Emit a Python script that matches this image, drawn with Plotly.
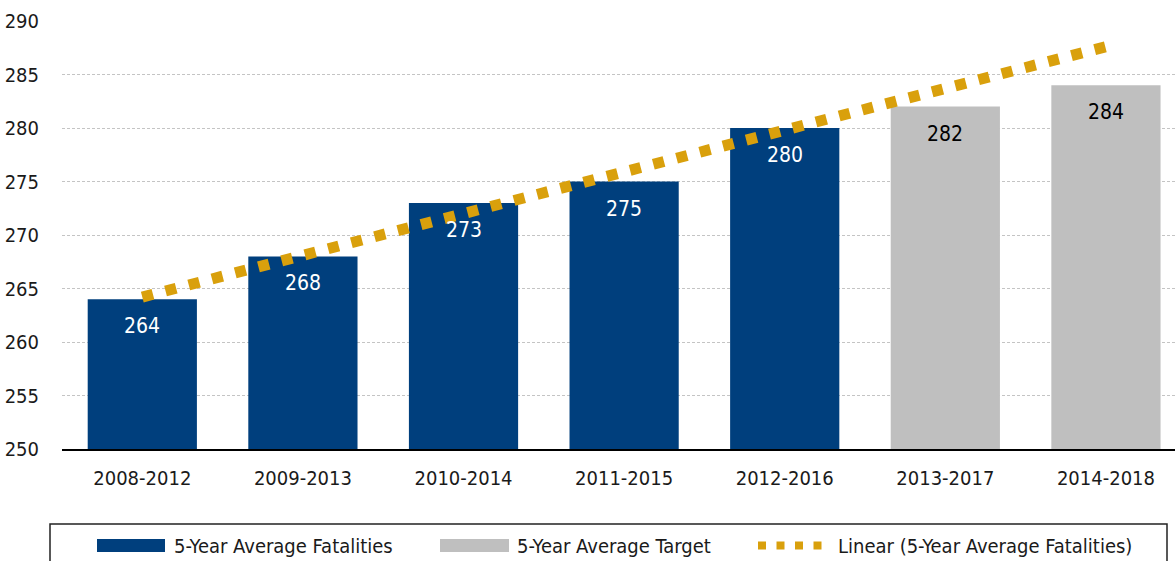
import plotly.graph_objects as go

# data
periods = ['2008-2012', '2009-2013', '2010-2014', '2011-2015',
           '2012-2016', '2013-2017', '2014-2018']
fatality_periods = periods[:5]
fatality_values = [264, 268, 273, 275, 280]
target_periods = periods[5:]
target_values = [282, 284]
trend_periods = [periods[0], periods[-1]]
trend_values = [264.2, 287.6]
y_ticks = [250, 255, 260, 265, 270, 275, 280, 285, 290]

BLUE = '#003F7D'
GRAY = '#BFBFBF'
GOLD = '#D9A00C'
FONT = 'Liberation Sans Narrow, Arial Narrow, DejaVu Sans Condensed, sans-serif'
FS = 20
TXT = '#1a1a1a'

W, H = 1175, 561
ML, MR, MT, MB = 62, 0, 21, 112
PW = W - ML - MR
PH = H - MT - MB


def px_x(px):
    # pixel -> paper x
    return (px - ML) / PW


def px_y(py):
    # pixel -> paper y
    return (H - MB - py) / PH


fig = go.Figure()

fig.add_trace(go.Bar(
    x=fatality_periods, y=fatality_values,
    name='5-Year Average Fatalities',
    marker=dict(color=BLUE, line=dict(width=0)),
))
fig.add_trace(go.Bar(
    x=target_periods, y=target_values,
    name='5-Year Average Target',
    marker=dict(color=GRAY, line=dict(width=0)),
))
fig.add_trace(go.Scatter(
    x=trend_periods, y=trend_values,
    mode='lines',
    name='Linear (5-Year Average Fatalities)',
    line=dict(color=GOLD, width=11, dash='11px,13px'),
))

# value labels inside the bars
for xs, ys, col in [(fatality_periods, fatality_values, 'white'),
                    (target_periods, target_values, 'black')]:
    for xv, yv in zip(xs, ys):
        fig.add_annotation(
            x=xv, y=yv, text=str(yv), showarrow=False,
            yshift=-27, font=dict(family=FONT, size=FS + 1, color=col),
        )

# hand-made legend to get the wide swatches
shapes = [
    dict(type='rect', xref='paper', yref='paper',
         x0=px_x(50), x1=px_x(1167), y0=px_y(580), y1=px_y(524),
         line=dict(color='#222', width=1.5), fillcolor='rgba(0,0,0,0)'),
    dict(type='rect', xref='paper', yref='paper',
         x0=px_x(97), x1=px_x(165), y0=px_y(552), y1=px_y(539),
         line=dict(width=0), fillcolor=BLUE),
    dict(type='rect', xref='paper', yref='paper',
         x0=px_x(440), x1=px_x(509), y0=px_y(552), y1=px_y(539),
         line=dict(width=0), fillcolor=GRAY),
    dict(type='line', xref='paper', yref='paper',
         x0=px_x(758), x1=px_x(822), y0=px_y(545.5), y1=px_y(545.5),
         line=dict(color=GOLD, width=8, dash='8px,10.5px')),
]
legend_texts = [(172, '5-Year Average Fatalities'),
                (515, '5-Year Average Target'),
                (836, 'Linear (5-Year Average Fatalities)')]
for xpx, t in legend_texts:
    fig.add_annotation(
        xref='paper', yref='paper', x=px_x(xpx), y=px_y(546),
        xanchor='left', yanchor='middle', text=t, showarrow=False,
        font=dict(family=FONT, size=FS, color=TXT),
    )

fig.update_layout(
    width=W, height=H,
    margin=dict(l=ML, r=MR, t=MT, b=MB, pad=0, autoexpand=False),
    barmode='overlay', bargap=0.32,
    showlegend=False,
    plot_bgcolor='white', paper_bgcolor='white',
    font=dict(family=FONT, size=FS, color=TXT),
    shapes=shapes,
)

fig.update_xaxes(
    type='category', categoryorder='array', categoryarray=periods,
    range=[-0.5, 6.43], automargin=False,
    showline=True, linecolor='#000', linewidth=1.5,
    showgrid=False, ticks='', ticklabelstandoff=10,
    tickfont=dict(family=FONT, size=FS, color=TXT),
)
fig.update_yaxes(
    range=[250, 290], tickvals=y_ticks, automargin=False,
    showgrid=True, gridcolor='#C4C4C4', gridwidth=1, griddash='3px,2px',
    zeroline=False, ticks='', ticklabelstandoff=22,
    tickfont=dict(family=FONT, size=FS, color=TXT),
)

# page body has a default 8px margin; drop it so the chart sits at 0,0
fig.write_html('out.html',
               config={'displayModeBar': False},
               post_script="document.body.style.margin='0';"
                           "document.body.style.overflow='hidden';")
